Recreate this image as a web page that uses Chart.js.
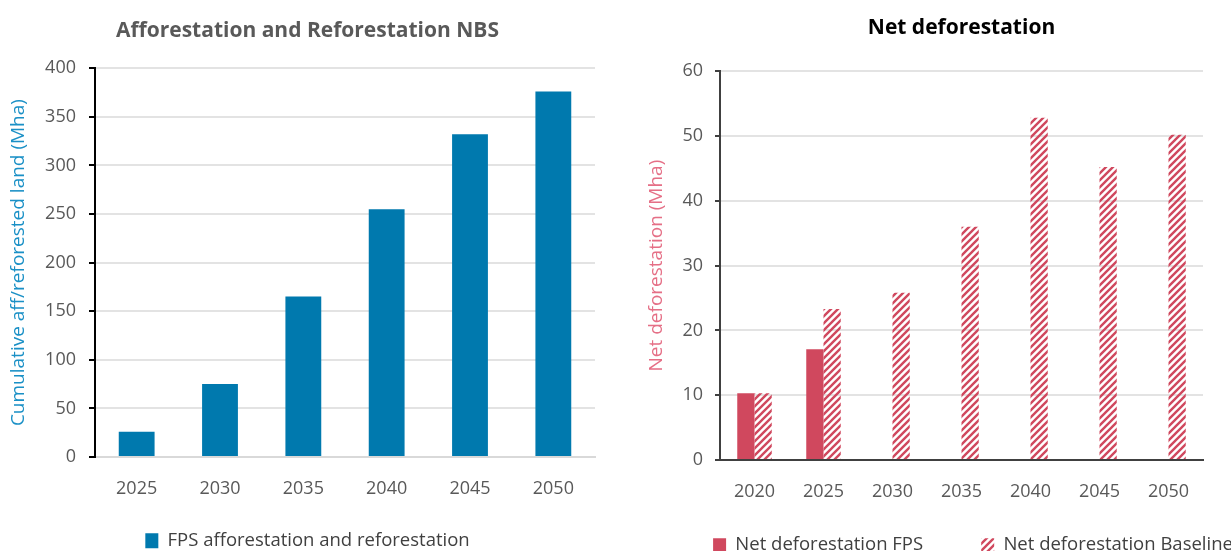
<!DOCTYPE html>
<html>
<head>
<meta charset="utf-8">
<script src="https://cdn.jsdelivr.net/npm/chart.js@4"></script>
<style>
  html, body { margin: 0; padding: 0; background: #fff; overflow: hidden; width: 1231px; height: 551px; }
  #left { position: absolute; left: 0; top: 0; width: 615px; height: 560px; }
  #right { position: absolute; left: 615px; top: 0; width: 716px; height: 564px; }
</style>
</head>
<body>
<div id="left"><canvas id="aff-chart"></canvas></div>
<div id="right"><canvas id="def-chart"></canvas></div>
<script>
// data
const affYears = ['2025', '2030', '2035', '2040', '2045', '2050'];
const affValues = [26, 75, 165, 255, 332, 376];

const defYears = ['2020', '2025', '2030', '2035', '2040', '2045', '2050'];
const defFps = [10.3, 17.1, null, null, null, null, null];
const defBaseline = [10.3, 23.3, 25.8, 36, 52.8, 45.2, 50.2];

const BLUE = '#0079ae';
const RED = '#d0485e';
const FONT = "'Open Sans', 'DejaVu Sans', sans-serif";

Chart.defaults.font.family = FONT;
Chart.defaults.color = '#595959';
Chart.defaults.animation = false;

// diagonal hatch for the baseline bars
function makeHatch(color) {
  const c = document.createElement('canvas');
  const s = 7;
  c.width = s; c.height = s;
  const g = c.getContext('2d');
  g.strokeStyle = color;
  g.lineWidth = 2.4;
  g.beginPath();
  g.moveTo(-1, s + 1); g.lineTo(s + 1, -1);
  g.moveTo(-1, 1); g.lineTo(1, -1);
  g.moveTo(s - 1, s + 1); g.lineTo(s + 1, s - 1);
  g.stroke();
  return g.createPattern(c, 'repeat');
}

// invisible right axis, only used to reserve space right of the plot
function spacer(w) {
  return {
    position: 'right',
    display: true,
    grid: { display: false },
    border: { display: false },
    ticks: { display: false },
    afterFit: s => { s.width = w; }
  };
}

new Chart(document.getElementById('aff-chart'), {
  type: 'bar',
  data: {
    labels: affYears,
    datasets: [{
      label: 'FPS afforestation and reforestation',
      data: affValues,
      backgroundColor: BLUE,
      categoryPercentage: 0.43,
      barPercentage: 1
    }]
  },
  options: {
    responsive: true,
    maintainAspectRatio: false,
    layout: { padding: 0 },
    plugins: {
      tooltip: { enabled: false },
      title: {
        display: true,
        text: 'Afforestation and Reforestation NBS',
        color: '#595959',
        font: { size: 21, weight: 'bold' },
        padding: { top: 18, bottom: 25 }
      },
      legend: {
        position: 'bottom',
        labels: { boxWidth: 13, boxHeight: 15, color: '#404040', font: { size: 18.5 }, padding: 10 }
      }
    },
    scales: {
      x: {
        grid: { display: false },
        border: { display: true, color: '#d9d9d9', width: 2 },
        ticks: { font: { size: 18 }, padding: 13, color: '#595959' },
        afterFit: s => { s.height = 64.5; }
      },
      y: {
        min: 0,
        max: 400,
        ticks: { stepSize: 50, font: { size: 18 }, padding: 13, color: '#595959' },
        grid: { color: '#e3e3e3', lineWidth: 2, tickColor: '#000', tickLength: 6 },
        border: { color: '#000', width: 2 },
        title: {
          display: true,
          text: 'Cumulative aff/reforested land (Mha)',
          color: '#1a90c6',
          font: { size: 19 },
          padding: { top: 7, bottom: 0 }
        },
        afterFit: s => { s.width = 95; }
      },
      pad: spacer(20)
    }
  }
});

new Chart(document.getElementById('def-chart'), {
  type: 'bar',
  data: {
    labels: defYears,
    datasets: [
      {
        label: 'Net deforestation FPS',
        data: defFps,
        backgroundColor: RED,
        categoryPercentage: 0.5,
        barPercentage: 1
      },
      {
        label: 'Net deforestation Baseline',
        data: defBaseline,
        backgroundColor: makeHatch(RED),
        categoryPercentage: 0.5,
        barPercentage: 1
      }
    ]
  },
  options: {
    responsive: true,
    maintainAspectRatio: false,
    layout: { padding: 0 },
    plugins: {
      tooltip: { enabled: false },
      title: {
        display: true,
        fullSize: false,
        text: 'Net deforestation',
        color: '#000',
        font: { size: 21, weight: 'bold' },
        padding: { top: 15, bottom: 31 }
      },
      legend: {
        position: 'bottom',
        labels: {
          boxWidth: 13,
          boxHeight: 13,
          color: '#404040',
          font: { size: 18.5 },
          padding: 10,
          // wider gap after the first item, as in the source figure
          generateLabels: chart => {
            const items = Chart.defaults.plugins.legend.labels.generateLabels(chart);
            items[0].text += '\u00a0'.repeat(10);
            return items;
          }
        }
      }
    },
    scales: {
      x: {
        grid: { display: false },
        border: { display: true, color: '#404040', width: 2 },
        ticks: { font: { size: 18 }, padding: 13, color: '#595959' },
        afterFit: s => { s.height = 65.5; }
      },
      y: {
        min: 0,
        max: 60,
        ticks: { stepSize: 10, font: { size: 18 }, padding: 12, color: '#595959' },
        grid: { color: '#e3e3e3', lineWidth: 2, tickColor: '#404040', tickLength: 5 },
        border: { color: '#404040', width: 2 },
        title: {
          display: true,
          text: 'Net deforestation (Mha)',
          color: '#e56f86',
          font: { size: 19 },
          padding: { top: 30, bottom: 0 }
        },
        afterFit: s => { s.width = 105; }
      },
      pad: spacer(128)
    }
  }
});
</script>
</body>
</html>
